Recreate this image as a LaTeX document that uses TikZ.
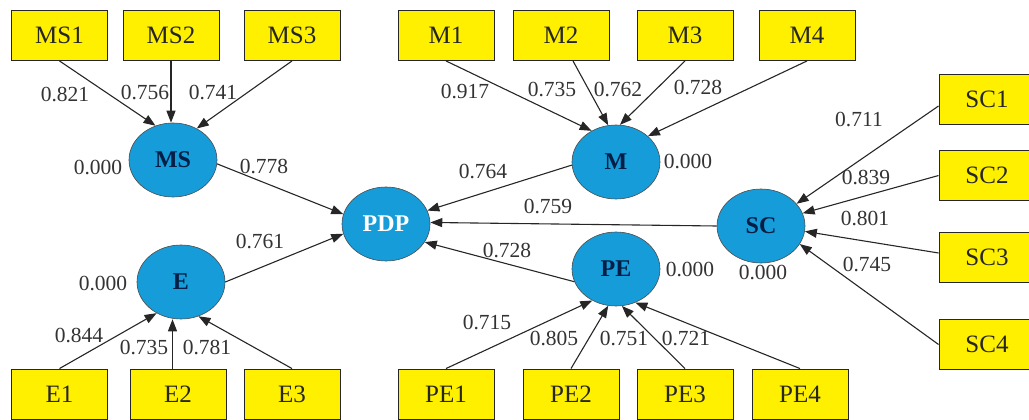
\documentclass[tikz,border=0pt]{standalone}
\usepackage{fontspec}
\setmainfont{Liberation Serif}
\newfontfamily\tnr{Liberation Serif}
\usetikzlibrary{shapes.geometric,arrows.meta}
\definecolor{lvblue}{RGB}{22,156,216}
\definecolor{lvtext}{RGB}{5,30,70}
\definecolor{boxyellow}{RGB}{255,240,0}
\begin{document}
\begin{tikzpicture}[x=1pt,y=-1pt,
  ind/.style={draw=black!85,line width=0.9pt,fill=boxyellow,minimum width=96pt,minimum height=50pt,inner sep=0pt,font=\tnr\fontsize{25}{27}\selectfont,text=black!85},
  lat/.style={ellipse,draw=black!70,line width=0.6pt,fill=lvblue,minimum width=88pt,minimum height=74pt,inner sep=0pt,font=\tnr\fontsize{24}{26}\selectfont\bfseries,text=lvtext},
  lbl/.style={font=\tnr\fontsize{21.5}{24}\selectfont,text=black!80,inner sep=0pt},
  arr/.style={draw=black!85,line width=1.1pt,-{Triangle[length=12pt,width=9pt]}}]
\useasboundingbox (0,0) rectangle (1029,420);
\clip (0,0) rectangle (1029,420);
% indicator boxes
\node[ind] (MS1) at (59.5,35.5) {MS1};
\node[ind] (MS2) at (171,35.5) {MS2};
\node[ind] (MS3) at (292,35.5) {MS3};
\node[ind] (M1) at (446,35.5) {M1};
\node[ind] (M2) at (561,35.5) {M2};
\node[ind] (M3) at (685,35.5) {M3};
\node[ind] (M4) at (807,35.5) {M4};
\node[ind] (E1) at (59.5,394) {E1};
\node[ind] (E2) at (178,394) {E2};
\node[ind] (E3) at (292,394) {E3};
\node[ind] (PE1) at (446,394) {PE1};
\node[ind] (PE2) at (571,394) {PE2};
\node[ind] (PE3) at (685,394) {PE3};
\node[ind] (PE4) at (800,394) {PE4};
\node[ind] (SC1) at (987,99.5) {SC1};
\node[ind] (SC2) at (987,175.5) {SC2};
\node[ind] (SC3) at (987,257.5) {SC3};
\node[ind] (SC4) at (987,344.5) {SC4};
% latent variables
\node[lat] (MS) at (173,160) {MS};
\node[lat] (E) at (181,282) {E};
\node[lat,text=white] (PDP) at (386,224) {PDP};
\node[lat] (M) at (616,162) {M};
\node[lat] (PE) at (616,269) {PE};
\node[lat] (SC) at (761,226) {SC};
% coordinates
\coordinate (m2s) at ([xshift=12pt]M2.south);
\coordinate (e2n) at ([xshift=-5.5pt]E2.north);
\coordinate (sc1w) at ([yshift=-6.5pt]SC1.west);
\coordinate (sc3w) at ([yshift=4.5pt]SC3.west);
% arrows
\draw[arr] (MS1.south) -- (MS.117);
\draw[arr] (MS2.south) -- (MS2.south |- MS.north);
\draw[arr] (MS3.south) -- (MS.53);
\draw[arr] (M1.south) -- (M.128);
\draw[arr] (m2s) -- (M.102);
\draw[arr] (M3.south) -- (M.84);
\draw[arr] (M4.south) -- (M.39);
\draw[arr] (E1.north) -- (E.232);
\draw[arr] (e2n) -- (e2n |- E.south);
\draw[arr] (E3.north) -- (E.297);
\draw[arr] (PE1.north) -- (PE.233);
\draw[arr] (PE2.north) -- (PE.258);
\draw[arr] (PE3.north) -- (PE.279);
\draw[arr] (PE4.north) -- (PE.300);
\draw[arr] (sc1w) -- (SC.32);
\draw[arr] (SC2.west) -- (SC.17);
\draw[arr] (sc3w) -- (SC.-7);
\draw[arr] (SC4.west) -- (SC.-25);
\draw[arr] (MS.-5) -- (PDP.167);
\draw[arr] (E.east) -- (PDP.193);
\draw[arr] (M.184) -- (PDP.18);
\draw[arr] (SC.west) -- (PDP.2);
\draw[arr] (PE.197) -- (PDP.-25);
% labels
\node[lbl] (l1) at (65,95) {0.821};
\node[lbl] (l2) at (145,93) {0.756};
\node[lbl] (l3) at (213,93) {0.741};
\node[lbl] (l4) at (98,168) {0.000};
\node[lbl] (l5) at (264,167) {0.778};
\node[lbl] (l6) at (260,242) {0.761};
\node[lbl] (l7) at (103,284) {0.000};
\node[lbl] (l8) at (79,336) {0.844};
\node[lbl] (l9) at (144,348) {0.735};
\node[lbl] (l10) at (207,348) {0.781};
\node[lbl] (l11) at (465,92) {0.917};
\node[lbl] (l12) at (552,90) {0.735};
\node[lbl] (l13) at (618,90) {0.762};
\node[lbl] (l14) at (698,88) {0.728};
\node[lbl] (l15) at (688,162) {0.000};
\node[lbl] (l16) at (483,172) {0.764};
\node[lbl] (l17) at (548,207) {0.759};
\node[lbl] (l18) at (507,251) {0.728};
\node[lbl] (l19) at (690,270) {0.000};
\node[lbl] (l20) at (487,323) {0.715};
\node[lbl] (l21) at (554,339) {0.805};
\node[lbl] (l22) at (624,339) {0.751};
\node[lbl] (l23) at (686,339) {0.721};
\node[lbl] (l24) at (859,120) {0.711};
\node[lbl] (l25) at (866,178) {0.839};
\node[lbl] (l26) at (865,219) {0.801};
\node[lbl] (l27) at (867,265) {0.745};
\node[lbl] (l28) at (763,273) {0.000};
\end{tikzpicture}
\end{document}
